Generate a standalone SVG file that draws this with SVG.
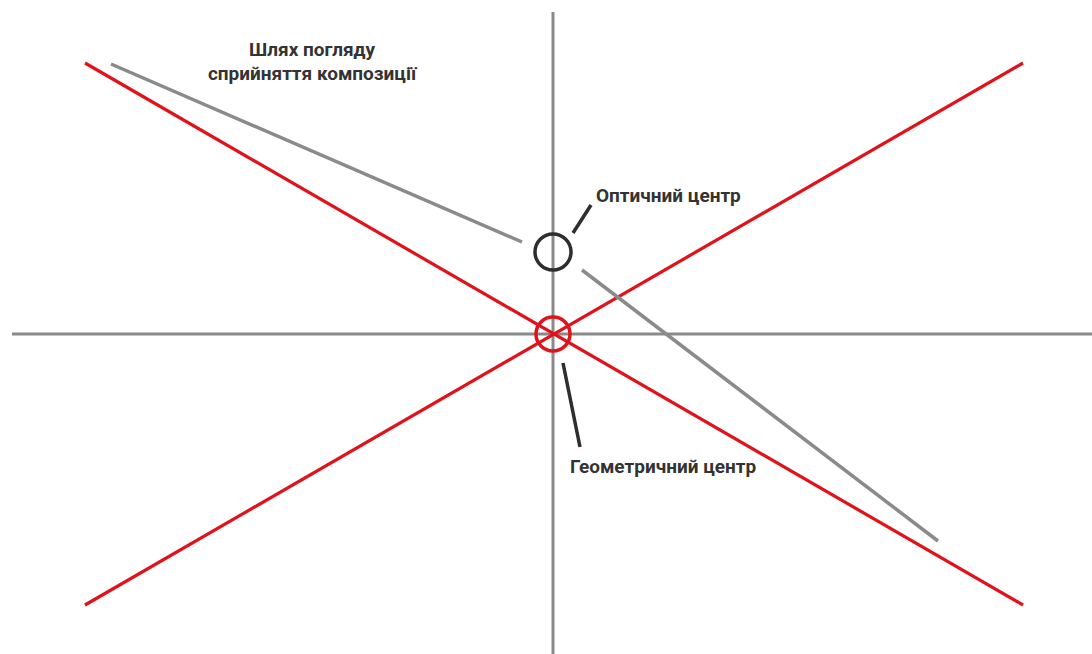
<svg xmlns="http://www.w3.org/2000/svg" width="1092" height="654" viewBox="0 0 1092 654">
<style>
.axis{stroke:#8a8a8a;stroke-width:3;fill:none}
.red{stroke:#e0121b;stroke-width:3.2;fill:none}
.path{stroke:#8a8a8a;stroke-width:3.5;fill:none}
.lead{stroke:#2e2e2e;stroke-width:3.5;fill:none}
.lbl{font-family:Roboto,"Liberation Sans",sans-serif;font-weight:bold;font-size:19px;fill:#333}
</style>
<rect width="1092" height="654" fill="#fff"/>
<g id="connectors">
<line class="axis" x1="553" y1="12" x2="553" y2="654"/>
<line class="axis" x1="12" y1="334" x2="1092" y2="334"/>
<line class="red" x1="85" y1="63" x2="1023" y2="605"/>
<line class="red" x1="85" y1="605" x2="1023" y2="63"/>
<line class="path" x1="111" y1="64" x2="522" y2="242"/>
<line class="path" x1="582" y1="270" x2="938" y2="541"/>
<line class="lead" x1="573" y1="233" x2="591" y2="205"/>
<line class="lead" x1="563" y1="363" x2="580" y2="447"/>
</g>
<g id="optical-center">
<circle cx="553" cy="252" r="18" fill="none" stroke="#2e2e2e" stroke-width="3.5"/>
<text class="lbl" x="596" y="202">Оптичний центр</text>
</g>
<g id="geometric-center">
<circle cx="553" cy="334" r="17" fill="none" stroke="#e0121b" stroke-width="3.5"/>
<text class="lbl" x="570" y="473">Геометричний центр</text>
</g>
<g id="gaze-path">
<text class="lbl" text-anchor="middle" x="312" y="56">Шлях погляду</text>
<text class="lbl" text-anchor="middle" x="312" y="80">сприйняття композиції</text>
</g>
</svg>
